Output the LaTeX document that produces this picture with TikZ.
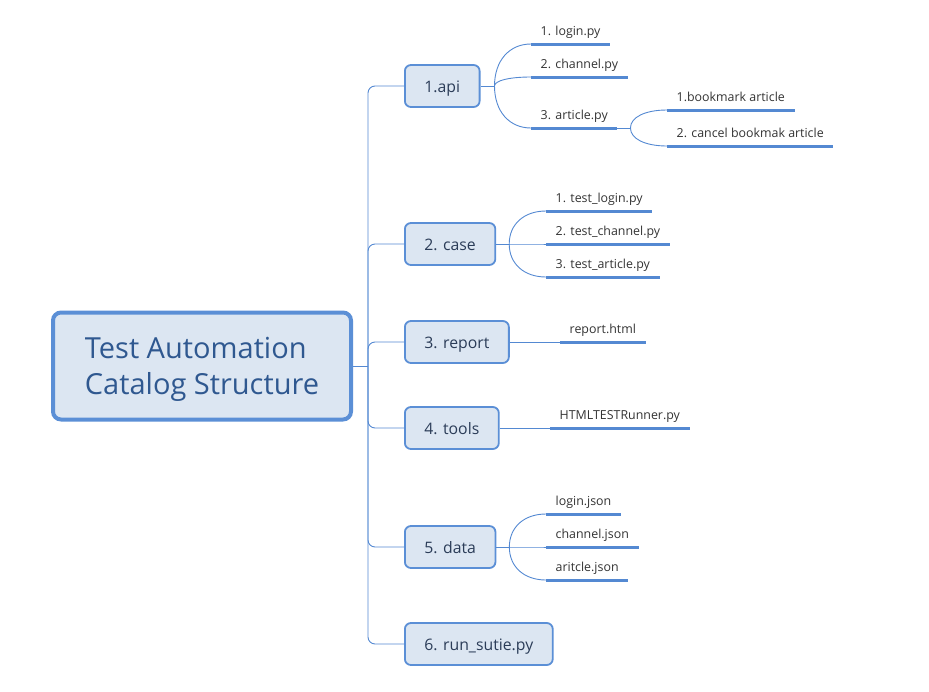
\documentclass[tikz,border=0pt]{standalone}
\usepackage{fontspec}
\setmainfont{Open Sans}
\usetikzlibrary{calc}
\definecolor{boxline}{HTML}{5B8FD6}
\definecolor{boxfill}{HTML}{DCE6F2}
\definecolor{linkc}{HTML}{5489D2}
\definecolor{roottext}{HTML}{2F5890}
\definecolor{topictext}{HTML}{2B3C58}
\definecolor{leaftext}{HTML}{333333}
\begin{document}
\begin{tikzpicture}[x=1pt,y=-1pt,
        root/.style={draw=boxline,line width=4pt,fill=boxfill,rounded corners=8pt,
            minimum width=298pt,minimum height=107pt,align=left,text=roottext,
            text depth=0pt,font=\fontsize{29}{36}\selectfont},
        topic/.style={draw=boxline,line width=1.8pt,fill=boxfill,rounded corners=6pt,
            minimum height=42pt,inner xsep=19.5pt,anchor=west,text=topictext,
            text height=14pt,text depth=2pt,font=\fontsize{15.8}{19}\selectfont},
        leaf/.style={anchor=south west,inner xsep=9.5pt,inner ysep=5pt,text height=9pt,
            text depth=3pt,text=leaftext,font=\fontsize{12.4}{15}\selectfont},
        link/.style={draw=linkc,line width=0.9pt},
        uline/.style={draw=linkc,line width=3pt}]
        \useasboundingbox (0,0) rectangle (929,691);

        \node[root] (root) at (202,366) {Test Automation\\Catalog Structure};

        \node[topic] (api) at (404,86) {1.api};
        \node[topic] (case) at (404,244) {2. case};
        \node[topic] (report) at (404,342) {3. report};
        \node[topic] (tools) at (404,428) {4. tools};
        \node[topic] (data) at (404,547) {5. data};
        \node[topic] (run) at (404,644) {6. run\_sutie.py};

        \coordinate (tr) at ($(root.east)+(15,0)$);
        \draw[link] (root.east) -- (tr);
        \draw[link,rounded corners=7pt] (api.west) -| (tr) |- (run.west);
        \foreach \t in {case,report,tools,data} {
            \draw[link,rounded corners=7pt] (tr) |- (\t.west);
        }

        \foreach \n/\x/\y/\t in {l11/531/44/1. login.py, l12/531/77/2. channel.py,
                l13/531/128/3. article.py, l21/546/211/1. test\_login.py,
                l22/546/244/2. test\_channel.py, l23/546/277/3. test\_article.py,
                l31/560/342/report.html, l41/550/428/HTMLTESTRunner.py,
                l51/546/514/login.json, l52/546/547/channel.json, l53/546/580/aritcle.json} {
            \node[leaf] (\n) at (\x,\y) {\t};
            \draw[uline] (\n.south west) -- (\n.south east);
        }
        \draw[link] (l13.south east) -- ++(13,0) coordinate (jart);
        \foreach \n/\y/\t in {l131/110/1.bookmark article, l132/146/2. cancel bookmak article} {
            \node[leaf] (\n) at (667,\y) {\t};
            \draw[uline] (\n.south west) -- (\n.south east);
        }

        \draw[link] (api.east) -- ++(14,0) coordinate (japi);
        \draw[link] (case.east) -- ++(13,0) coordinate (jcase);
        \draw[link] (data.east) -- ++(13,0) coordinate (jdata);
        \draw[link] (report.east) -- (l31.south west);
        \draw[link] (tools.east) -- (l41.south west);
        \foreach \j/\n in {japi/l11,japi/l12,japi/l13,jart/l131,jart/l132,
                jcase/l21,jcase/l22,jcase/l23,jdata/l51,jdata/l52,jdata/l53} {
            \draw[link] (\j) .. controls ($(\j)!0.6!(\j |- \n.south west)$)
                and ($(\n.south west)!0.6!(\j |- \n.south west)$) .. (\n.south west);
        }

    \end{tikzpicture}
\end{document}
